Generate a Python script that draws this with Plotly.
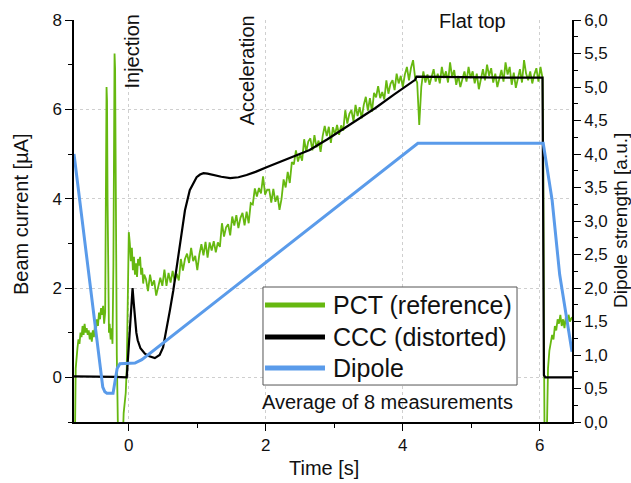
import numpy as np
import plotly.graph_objects as go

# ---------------- data ----------------
# PCT (reference) beam current [uA] - irregular early part
pct_t_early = [-0.80, -0.785, -0.775, -0.765, -0.75, -0.735, -0.72, -0.705, -0.69, -0.675,
               -0.66, -0.645, -0.63, -0.615, -0.60, -0.585, -0.57, -0.555, -0.54, -0.525,
               -0.51, -0.495, -0.48, -0.465, -0.45, -0.435, -0.42, -0.405, -0.39, -0.375,
               -0.36, -0.345, -0.335, -0.325, -0.318, -0.31, -0.30, -0.29, -0.28, -0.265,
               -0.25, -0.238, -0.225, -0.215, -0.208, -0.20, -0.193, -0.185, -0.175, -0.165,
               -0.155, -0.12, -0.09, -0.075, -0.06, -0.045, -0.03, -0.015, 0.0, 0.015,
               0.03, 0.045, 0.06, 0.075, 0.09, 0.105, 0.12, 0.135, 0.15, 0.165,
               0.18, 0.195, 0.21, 0.225]
pct_v_early = [-1.5, -1.2, 0.2, 0.5, 0.65, 0.85, 0.75, 1.0, 0.9, 1.15,
               0.95, 1.2, 1.0, 1.1, 0.95, 1.05, 0.85, 1.0, 0.8, 1.05,
               0.9, 1.15, 1.05, 1.3, 1.15, 1.45, 1.3, 1.55, 1.4, 1.6,
               1.2, 1.45, 3.5, 6.5, 6.2, 4.0, 1.6, 1.0, 1.2, 0.85,
               1.1, 0.75, 2.5, 6.0, 7.25, 6.9, 4.5, 2.0, 0.5, -0.5,
               -1.5, -1.5, -1.5, -0.8, -0.55, -0.35, 0.2, 1.5, 3.25, 3.0,
               2.6, 2.9, 2.4, 2.7, 2.3, 2.55, 2.25, 2.65, 2.5, 2.7,
               2.3, 2.45, 2.1, 2.3]
# PCT main part, sampled every 0.03 s starting at 0.25 s
pct_main_t0 = 0.25
pct_main_dt = 0.03
pct_v_main = [
    2.20, 1.93, 2.30, 2.05, 2.17, 1.83, 2.05, 2.23, 2.05, 2.41,
    2.05, 2.34, 2.12, 2.38, 2.15, 2.32, 2.17, 2.65, 2.39, 2.65,
    2.77, 2.56, 2.90, 2.60, 2.72, 2.40, 2.75, 2.98, 2.73, 3.03,
    2.68, 3.02, 2.84, 3.05, 2.80, 3.02, 2.92, 3.45, 3.15, 3.36,
    3.43, 3.18, 3.60, 3.40, 3.63, 3.34, 3.57, 3.68, 3.40, 3.71,
    3.45, 3.90, 3.87, 4.23, 4.05, 4.24, 4.12, 4.50, 4.09, 4.20,
    4.20, 3.91, 4.22, 3.93, 4.07, 3.75, 4.00, 4.43, 4.25, 4.60,
    4.35, 4.82, 4.77, 5.08, 4.83, 5.00, 4.85, 5.33, 5.05, 5.28,
    5.35, 5.08, 5.42, 5.15, 5.30, 5.05, 5.40, 5.63, 5.40, 5.61,
    5.25, 5.60, 5.43, 5.65, 5.43, 5.64, 5.52, 5.98, 5.68, 5.90,
    5.98, 5.73, 6.10, 5.85, 6.05, 5.80, 6.10, 6.28, 5.97, 6.25,
    5.95, 6.37, 6.27, 6.52, 6.25, 6.39, 6.22, 6.65, 6.35, 6.57,
    6.65, 6.43, 6.80, 6.58, 6.75, 6.50, 6.78, 6.95, 6.65, 6.93,
    7.10, 6.70, 6.60, 5.65, 6.50,
    6.85, 6.60, 6.78, 6.55, 6.70, 6.90, 6.62, 6.80, 6.58, 6.95,
    6.70, 6.85, 6.60, 7.05, 6.72, 6.88, 6.55, 6.75, 6.50, 6.68,
    6.85, 6.62, 6.95, 6.70, 6.85, 6.58, 6.80, 6.45, 6.72, 6.90,
    6.65, 7.00, 6.75, 6.92, 6.60, 6.80, 6.50, 6.70, 6.88, 6.62,
    7.05, 6.78, 6.95, 6.55, 6.82, 6.48, 6.72, 6.90, 6.60, 7.10,
    6.80, 6.65, 6.85, 6.58, 6.78, 6.92, 6.62, 6.95, 6.70]
# PCT tail after extraction
pct_t_tail = [6.05, 6.06, 6.07, 6.10, 6.11, 6.12, 6.14, 6.16, 6.18, 6.20, 6.22, 6.24,
              6.26, 6.28, 6.30, 6.32, 6.34, 6.36, 6.38, 6.40, 6.42, 6.44, 6.47]
pct_v_tail = [5.0, 1.0, -1.5, -1.5, -0.5, 0.2, 0.6, 0.75, 0.95, 0.85, 1.15, 1.05,
              1.3, 1.2, 1.4, 1.15, 1.3, 1.1, 1.35, 1.2, 1.4, 1.25, 1.35]

# CCC (distorted) beam current [uA]
ccc_t = [-0.8, -0.5, -0.2, -0.03, -0.01, 0.01, 0.03, 0.055, 0.07, 0.09, 0.11, 0.13, 0.17,
         0.235, 0.3, 0.38, 0.45, 0.5, 0.55, 0.6, 0.65, 0.7, 0.75, 0.82, 0.89, 0.95, 0.99,
         1.04, 1.09, 1.15, 1.23, 1.35, 1.48, 1.6, 1.72, 1.85, 2.02, 2.2, 2.4, 2.64, 2.9,
         3.1, 3.37, 3.6, 3.86, 4.05, 4.18, 4.2, 4.6, 5.0, 5.5, 6.04, 6.05, 6.06, 6.08, 6.47]
ccc_v = [0.02, 0.02, 0.01, 0.0, 0.5, 0.9, 1.4, 2.0, 1.7, 1.28, 1.0, 0.83, 0.65,
         0.53, 0.47, 0.43, 0.5, 0.67, 1.05, 1.5, 1.95, 2.5, 3.07, 3.74, 4.19, 4.38, 4.48,
         4.54, 4.57, 4.56, 4.53, 4.49, 4.46, 4.48, 4.53, 4.6, 4.71, 4.82, 4.95, 5.09, 5.33,
         5.53, 5.8, 6.03, 6.32, 6.52, 6.66, 6.73, 6.72, 6.72, 6.71, 6.71, 3.0, 0.05, 0.0, 0.0]

# Dipole strength [a.u.]
dip_t = [-0.8, -0.38, -0.35, -0.32, -0.23, -0.2, -0.17, -0.13, 0.09, 0.19, 4.22, 6.05, 6.18, 6.29, 6.47]
dip_v = [4.0, 0.52, 0.45, 0.43, 0.43, 0.6, 0.8, 0.87, 0.88, 0.93, 4.16, 4.16, 3.31, 2.2, 1.05]

series_names = ["PCT (reference)", "CCC (distorted)", "Dipole"]
series_colors = ["#66b810", "#000000", "#5a9bea"]

# ---------------- build ----------------
pct_t_main = list(np.round(pct_main_t0 + pct_main_dt * np.arange(len(pct_v_main)), 3))
pct_t = pct_t_early + pct_t_main + pct_t_tail
pct_v = pct_v_early + pct_v_main + pct_v_tail

FONT = "Liberation Sans, Arial, sans-serif"
TXT = "#111"
fig = go.Figure()
fig.add_trace(go.Scatter(x=pct_t, y=pct_v, mode="lines", name=series_names[0],
                         line=dict(color=series_colors[0], width=1.8), showlegend=False))
fig.add_trace(go.Scatter(x=ccc_t, y=ccc_v, mode="lines", name=series_names[1],
                         line=dict(color=series_colors[1], width=2.2), showlegend=False))
fig.add_trace(go.Scatter(x=dip_t, y=dip_v, mode="lines", name=series_names[2], yaxis="y2",
                         line=dict(color=series_colors[2], width=3), showlegend=False))

grid = dict(showgrid=True, gridcolor="#cfcfcf", griddash="3px,3px", gridwidth=1)
common = dict(ticks="outside", ticklen=7, tickwidth=1.3, tickcolor="black", showline=True,
              linecolor="black", linewidth=1.5, zeroline=False, automargin=False)
fig.update_layout(
    width=631, height=483,
    margin=dict(l=74, r=59, t=20, b=61, autoexpand=False),
    paper_bgcolor="white", plot_bgcolor="white",
    separators=",.",
    font=dict(family=FONT, size=17, color=TXT),
    xaxis=dict(range=[-0.8, 6.47], tick0=0, dtick=2,
               minor=dict(dtick=1, tick0=0, ticks="outside", ticklen=4, tickcolor="black", showgrid=False),
               **common, **grid),
    yaxis=dict(range=[-1, 8], tick0=0, dtick=2,
               minor=dict(dtick=1, tick0=0, ticks="outside", ticklen=4, tickcolor="black", showgrid=False),
               **common, **grid),
    yaxis2=dict(range=[0, 6], overlaying="y", side="right", tick0=0, dtick=0.5, tickformat=".1f",
                showgrid=False,
                minor=dict(dtick=0.25, tick0=0, ticks="outside", ticklen=4, tickcolor="black"),
                **common),
)

def paper_ann(px, py, text, size, angle=0, xanchor="center"):
    fig.add_annotation(x=(px - 74) / 498, y=(422 - py) / 402, xref="paper", yref="paper",
                       text=text, textangle=angle, showarrow=False, xanchor=xanchor,
                       yanchor="middle", font=dict(size=size, color=TXT))

# axis titles
paper_ann(21, 214, "Beam current [µA]", 20, -90)
paper_ann(620, 221, "Dipole strength [a.u.]", 19, -90)
paper_ann(324, 468, "Time [s]", 20)

# phase annotations
fig.add_annotation(x=0.05, y=7.3, xref="x", yref="y", text="Injection", textangle=-90,
                   showarrow=False, font=dict(size=20, color=TXT))
fig.add_annotation(x=1.73, y=6.88, xref="x", yref="y", text="Acceleration", textangle=-90,
                   showarrow=False, font=dict(size=20, color=TXT))
fig.add_annotation(x=5.02, y=7.97, xref="x", yref="y", text="Flat top",
                   showarrow=False, font=dict(size=20, color=TXT))

# manual legend (paper coordinates)
x0, x1, y0, y1 = 0.3795, 0.8896, 0.092, 0.3358
fig.add_shape(type="rect", xref="paper", yref="paper", x0=x0, x1=x1, y0=y0, y1=y1,
              line=dict(color="#555", width=1), fillcolor="white", layer="above")
rows_px = [305, 337, 368]
for name, col, py in zip(series_names, series_colors, rows_px):
    yy = (422 - py) / 402
    fig.add_shape(type="line", xref="paper", yref="paper", x0=0.3835, x1=0.504, y0=yy, y1=yy,
                  line=dict(color=col, width=5), layer="above")
    paper_ann(331, py, name, 25, 0, "left")
paper_ann(387.5, 402, "Average of 8 measurements", 20)

fig.write_html("out.html", config={"displayModeBar": False},
               post_script="document.body.style.margin='0';")
